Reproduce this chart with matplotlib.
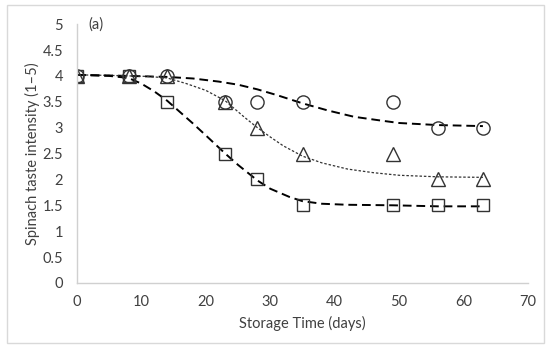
import matplotlib
matplotlib.use('Agg')
import matplotlib.pyplot as plt
from matplotlib.patches import Rectangle

plt.rcParams['font.family'] = ['Lato', 'DejaVu Sans']

# measured scores
days = [0, 8, 14, 23, 28, 35, 49, 56, 63]
circle = [4, 4, 4, 3.5, 3.5, 3.5, 3.5, 3, 3]
triangle = [4, 4, 4, 3.5, 3, 2.5, 2.5, 2, 2]
square = [4, 4, 3.5, 2.5, 2, 1.5, 1.5, 1.5, 1.5]

# trend lines
circle_fit_x = [0, 8, 14, 18, 22, 25, 28, 31, 35, 39, 43, 47, 50, 56, 63]
circle_fit_y = [4.02, 4.0, 3.98, 3.95, 3.89, 3.83, 3.74, 3.63, 3.47, 3.33, 3.21, 3.14, 3.09, 3.05, 3.03]
triangle_fit_x = [0, 5, 8, 11, 14, 17, 20, 23, 26, 28, 30, 32, 35, 38, 42, 46, 50, 56, 63]
triangle_fit_y = [4.02, 4.01, 4.0, 3.99, 3.96, 3.85, 3.72, 3.52, 3.2, 3.0, 2.82, 2.65, 2.45, 2.32, 2.2, 2.13, 2.08, 2.05, 2.04]
square_fit_x = [0, 5, 8, 10, 12, 14, 16, 18, 20, 23, 25, 28, 30, 33, 35, 38, 42, 49, 56, 63]
square_fit_y = [4.02, 4.0, 3.96, 3.85, 3.7, 3.52, 3.3, 3.08, 2.85, 2.5, 2.28, 1.98, 1.82, 1.66, 1.58, 1.53, 1.51, 1.5, 1.48, 1.48]

fig = plt.figure(figsize=(5.5, 3.55), dpi=100)
ax = fig.add_axes([0.14, 0.203, 0.82, 0.729])

# outer frame
fig.patches.append(Rectangle((7 / 550, 12 / 355), 537 / 550, 338 / 355, transform=fig.transFigure,
                             fill=False, edgecolor='#d9d9d9', linewidth=1.0))

# trend lines
ax.plot(circle_fit_x, circle_fit_y, color='black', lw=1.4, dashes=(4.5, 2.5))
ax.plot(triangle_fit_x, triangle_fit_y, color='#333333', lw=0.9, dashes=(2, 1.5))
ax.plot(square_fit_x, square_fit_y, color='black', lw=1.4, dashes=(4.5, 2.5))

# markers
ax.plot(days, circle, ls='none', marker='o', ms=9.5, mfc='none', mec='#333333', mew=1.0)
ax.plot(days, triangle, ls='none', marker='^', ms=9.5, mfc='none', mec='#333333', mew=1.0)
ax.plot(days, square, ls='none', marker='s', ms=9, mfc='none', mec='#333333', mew=1.0)

ax.set_xlim(0, 70)
ax.set_ylim(0, 5)
ax.set_xticks(range(0, 71, 10))
ax.set_yticks([0, 0.5, 1, 1.5, 2, 2.5, 3, 3.5, 4, 4.5, 5])
ax.set_yticklabels(['0', '0.5', '1', '1.5', '2', '2.5', '3', '3.5', '4', '4.5', '5'])
ax.tick_params(length=0, labelsize=10.5, colors='#404040')
ax.tick_params(axis='y', pad=10)
ax.tick_params(axis='x', pad=9)

for s in ['top', 'right']:
    ax.spines[s].set_visible(False)
for s in ['left', 'bottom']:
    ax.spines[s].set_color('#d0d0d0')
    ax.spines[s].set_linewidth(1.0)

ax.set_xlabel('Storage Time (days)', fontsize=10.5, color='#404040', labelpad=5)
ax.set_ylabel('Spinach taste intensity (1\u20135)', fontsize=10.5, color='#404040', labelpad=2)
ax.text(1.7, 5.0, '(a)', fontsize=10.5, color='#404040', va='center', ha='left')

fig.savefig('out.png', dpi=100)
